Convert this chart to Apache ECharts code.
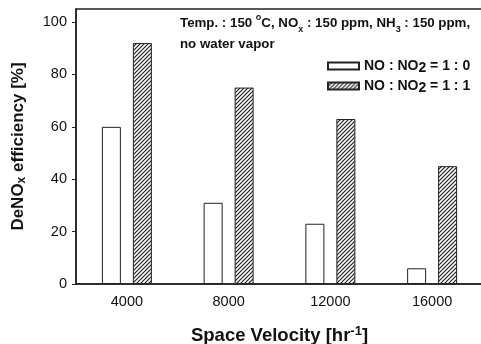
<!DOCTYPE html>
<html>
<head>
<meta charset="utf-8" />
<title>DeNOx efficiency</title>
<script src="https://cdn.jsdelivr.net/npm/echarts@6/dist/echarts.min.js"></script>
<style>
  html, body { margin: 0; padding: 0; background: #fff; }
  #chart { width: 481px; height: 344px; }
</style>
</head>
<body>
<div id="chart"></div>
<script>
  // data
  var velocities = ['4000', '8000', '12000', '16000'];
  var ratio10 = [60, 31, 23, 6];     // NO : NO2 = 1 : 0
  var ratio11 = [92, 75, 63, 45];    // NO : NO2 = 1 : 1
  var yTicks = [0, 20, 40, 60, 80, 100];

  // diagonal hatch pattern for the 1:1 bars
  function makeHatch() {
    var c = document.createElement('canvas');
    c.width = 4; c.height = 4;
    var g = c.getContext('2d');
    g.fillStyle = '#fff';
    g.fillRect(0, 0, 4, 4);
    g.strokeStyle = '#222';
    g.lineWidth = 1.2;
    g.beginPath();
    g.moveTo(-1, 5); g.lineTo(5, -1);
    g.moveTo(-1, 1); g.lineTo(1, -1);
    g.moveTo(3, 5); g.lineTo(5, 3);
    g.stroke();
    return c;
  }
  var hatch = { image: makeHatch(), repeat: 'repeat' };

  var txt = '#111';
  var font = 'Liberation Sans, Arial, sans-serif';

  var chart = echarts.init(document.getElementById('chart'));
  chart.setOption({
    animation: false,
    textStyle: { fontFamily: font, color: txt },
    grid: {
      left: 76, top: 9, right: -2, bottom: 60,
      outerBoundsMode: 'none',
      show: true, borderColor: '#222', borderWidth: 1.5
    },
    legend: {
      orient: 'vertical',
      left: 322, top: 54,
      itemWidth: 31, itemHeight: 7, itemGap: 4,
      icon: 'rect',
      formatter: function (name) {
        var r = name.slice(-1);
        return '{n|NO : NO}{s|2}{n| = 1 : ' + r + '}';
      },
      textStyle: {
        rich: {
          n: { fontSize: 14, fontWeight: 'bold', color: txt, fontFamily: font, lineHeight: 18 },
          s: { fontSize: 14, fontWeight: 'bold', color: txt, fontFamily: font, lineHeight: 12, verticalAlign: 'bottom' }
        }
      }
    },
    graphic: [{
      type: 'text', left: 180, top: 13,
      style: {
        text: '{b|Temp. : 150 }{p|o}{b|C, NO}{q|x}{b| : 150 ppm, NH}{q|3}{b| : 150 ppm,}\n{b|no water vapor}',
        fill: txt,
        rich: {
          b: { fontSize: 13.3, fontWeight: 'bold', fontFamily: font, fill: txt, lineHeight: 21 },
          p: { fontSize: 9, fontWeight: 'bold', fontFamily: font, fill: txt, lineHeight: 14, verticalAlign: 'top' },
          q: { fontSize: 9, fontWeight: 'bold', fontFamily: font, fill: txt, lineHeight: 10, verticalAlign: 'bottom' }
        }
      }
    }],
    xAxis: {
      type: 'category',
      data: velocities,
      axisLine: { lineStyle: { color: '#222', width: 1.5 } },
      axisTick: { show: false },
      axisLabel: { fontSize: 14.5, color: txt, margin: 10 },
      name: '{b|Space Velocity [hr}{p|-1}{b|]}',
      nameLocation: 'middle',
      nameGap: 41,
      nameTextStyle: {
        rich: {
          b: { fontSize: 18.5, fontWeight: 'bold', fontFamily: font, color: txt, lineHeight: 22 },
          p: { fontSize: 13, fontWeight: 'bold', fontFamily: font, color: txt, lineHeight: 14, verticalAlign: 'top' }
        }
      }
    },
    yAxis: {
      type: 'value',
      min: 0, max: 105, interval: 20,
      splitLine: { show: false },
      axisLine: { show: true, lineStyle: { color: '#222', width: 1.5 } },
      axisTick: { show: true, length: 4, customValues: yTicks, lineStyle: { color: '#222' } },
      axisLabel: { fontSize: 14.5, color: txt, margin: 9, customValues: yTicks },
      name: '{b|DeNO}{s|x}{b| efficiency [%]}',
      nameLocation: 'middle',
      nameGap: 48,
      nameTextStyle: {
        rich: {
          b: { fontSize: 17, fontWeight: 'bold', fontFamily: font, color: txt, lineHeight: 20 },
          s: { fontSize: 12, fontWeight: 'bold', fontFamily: font, color: txt, lineHeight: 12, verticalAlign: 'bottom' }
        }
      }
    },
    series: [{
      name: 'NO : NO2 = 1 : 0',
      type: 'bar',
      data: ratio10,
      barWidth: 19,
      barGap: '63%',
      itemStyle: { color: '#fff', borderColor: '#222', borderWidth: 1 }
    }, {
      name: 'NO : NO2 = 1 : 1',
      type: 'bar',
      data: ratio11,
      barWidth: 19,
      itemStyle: { color: hatch, borderColor: '#222', borderWidth: 1 }
    }]
  });
  window.onresize = function () { chart.resize(); };
</script>
</body>
</html>
